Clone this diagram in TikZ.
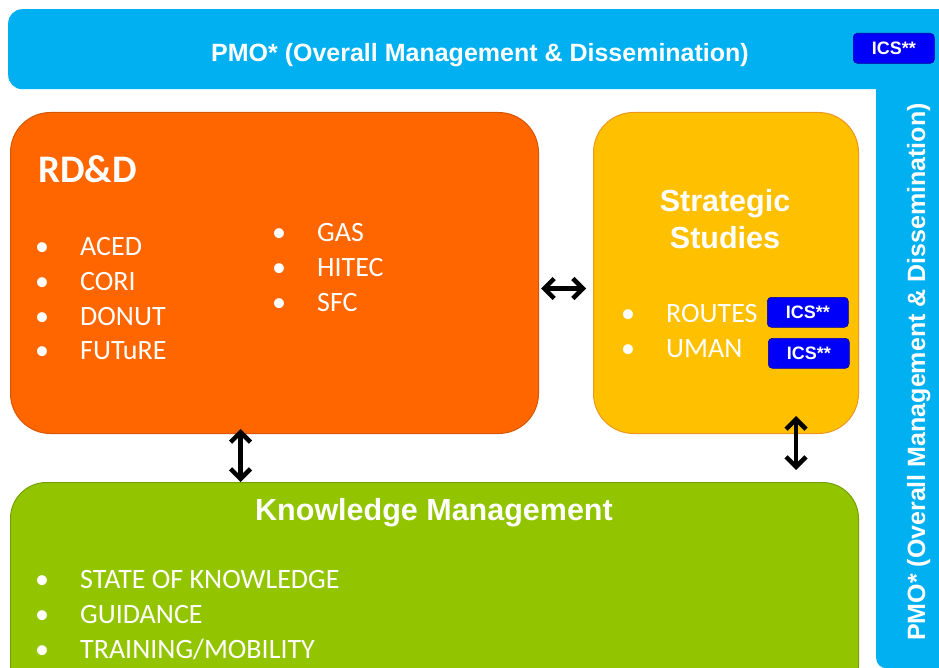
\documentclass[tikz,border=0pt]{standalone}
\usepackage{fontspec}
\setmainfont{Carlito}
\newfontfamily\headfont{Liberation Sans}
\usetikzlibrary{arrows.meta, positioning}
\definecolor{pmoblue}{RGB}{0,176,240}
\definecolor{rddorange}{RGB}{255,102,0}
\definecolor{rddedge}{RGB}{214,86,0}
\definecolor{ssyellow}{RGB}{255,192,0}
\definecolor{ssedge}{RGB}{236,152,30}
\definecolor{kmgreen}{RGB}{146,196,0}
\definecolor{kmedge}{RGB}{118,160,0}
\definecolor{icsblue}{RGB}{0,0,250}
\definecolor{icsedge}{RGB}{0,0,160}
\newcommand{\bul}{\makebox[45pt][l]{\textbullet}}

\begin{document}
\begin{tikzpicture}[x=1pt, y=-1pt,
	bar/.style={fill=pmoblue, inner sep=0pt, anchor=north west},
	box/.style={line width=1pt, inner sep=0pt, anchor=north west, rounded corners=40pt},
	pmotext/.style={text=white, inner sep=0pt, font=\headfont\bfseries\fontsize{25}{30}\selectfont},
	head/.style={text=white, inner sep=0pt, align=center, font=\headfont\bfseries\fontsize{30.5}{36}\selectfont},
	item/.style={text=white, inner sep=0pt, text height=20pt, text depth=7pt,
						font=\fontsize{28}{34.5}\selectfont},
	ics/.style={fill=icsblue, draw=icsedge, line width=0.6pt, rounded corners=4pt, inner sep=0pt,
						minimum width=81pt, minimum height=30pt, text=white,
						font=\headfont\bfseries\fontsize{18}{21}\selectfont},
	link/.style={{Straight Barb[length=10pt, width=20pt]}-{Straight Barb[length=10pt, width=20pt]},
						line width=4.5pt}]

			% Frame of the page
			\useasboundingbox (0,0) rectangle (939,668);
			\clip (0,0) rectangle (939,668);

			% PMO bars
			\node[bar, rounded corners=14pt, minimum width=960pt, minimum height=80pt] (pmotop) at (8,9) {};
			\node[bar, rounded corners=10pt, minimum width=80pt, minimum height=618pt] (pmoside) at (876,50) {};
			\node[pmotext, anchor=base] (pmotitle) at (480,62) {PMO* (Overall Management \& Dissemination)};
			\node[pmotext, rotate=90, anchor=base] (pmosidetitle) at (925,372) {PMO* (Overall Management \& Dissemination)};
			\node[ics, anchor=north west] (icstop) at (853,33) {ICS**};

			% Work package boxes
			\node[box, fill=rddorange, draw=rddedge, minimum width=528pt, minimum height=321pt] (rdd) at (10,112) {};
			\node[box, fill=ssyellow, draw=ssedge, minimum width=265pt, minimum height=321pt] (ss) at (593,112) {};
			\node[box, fill=kmgreen, draw=kmedge, rounded corners=36pt, minimum width=848pt, minimum height=220pt] (km) at (10,482) {};

			% RD&D
			\node[text=white, inner sep=0pt, anchor=base west, font=\bfseries\fontsize{39}{46}\selectfont] (rddtitle) at (38,183) {RD\&D};
			\node[item, anchor=north west] (rdd1) at (35,235) {\bul ACED};
			\node[item, below=7.5pt of rdd1.south west, anchor=north west] (rdd2) {\bul CORI};
			\node[item, below=7.5pt of rdd2.south west, anchor=north west] (rdd3) {\bul DONUT};
			\node[item, below=7.5pt of rdd3.south west, anchor=north west] (rdd4) {\bul FUTuRE};
			\node[item, anchor=north west] (rdd5) at (272,221) {\bul GAS};
			\node[item, below=7.5pt of rdd5.south west, anchor=north west] (rdd6) {\bul HITEC};
			\node[item, below=7.5pt of rdd6.south west, anchor=north west] (rdd7) {\bul SFC};

			% Strategic Studies
			\node[head, anchor=base] (sstitle) at (725,248) {Strategic\\Studies};
			\node[item, anchor=north west] (ss1) at (621,302) {\bul ROUTES};
			\node[item, below=7.5pt of ss1.south west, anchor=north west] (ss2) {\bul UMAN};
			\node[ics, anchor=north west] (ics1) at (767,297) {ICS**};
			\node[ics, anchor=north west] (ics2) at (768,338) {ICS**};

			% Knowledge Management
			\node[head, anchor=base] (kmtitle) at (434,520) {Knowledge Management};
			\node[item, anchor=north west] (km1) at (35,568) {\bul STATE OF KNOWLEDGE};
			\node[item, below=7.5pt of km1.south west, anchor=north west] (km2) {\bul GUIDANCE};
			\node[item, below=7.5pt of km2.south west, anchor=north west] (km3) {\bul TRAINING/MOBILITY};

			% Links between boxes
			\draw[link, shorten <=2pt, shorten >=7pt] ([yshift=-15.5pt]rdd.east) -- ([yshift=-15.5pt]ss.west);
			\draw[link] ([xshift=-34pt, yshift=5pt]rdd.south) -- ([xshift=-34pt]rdd.south |- km.north);
			\draw[link] ([xshift=70pt, yshift=18pt]ss.south) -- ([xshift=70pt, yshift=12pt]ss.south |- km.north);

		\end{tikzpicture}
\end{document}
